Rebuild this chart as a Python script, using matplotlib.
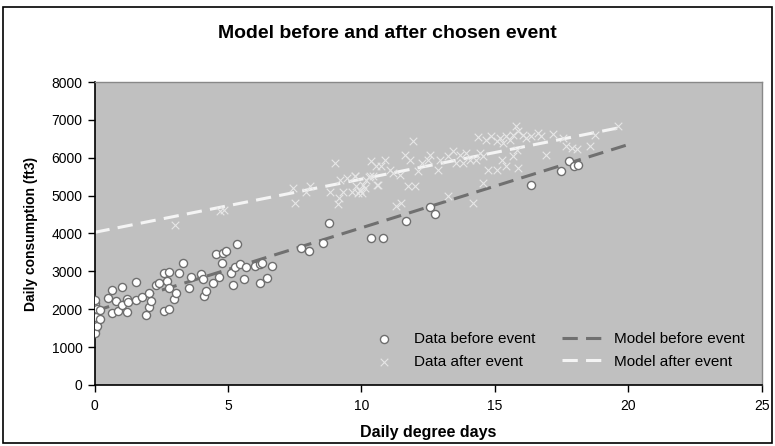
import matplotlib
matplotlib.use("Agg")
import matplotlib.pyplot as plt
from matplotlib.patches import Rectangle

plt.rcParams['font.family'] = ['Liberation Sans', 'DejaVu Sans']

# data before event (circles)
before_x = [0, 0, 0, 0, 0, 0, 0, 0, 0, 0, 0, 0, 0, 0, 0.03, 0.05, 0.08, 0.1,
            0.22, 0.22, 0.51, 0.64, 0.66, 0.8, 0.89, 1.01, 1.04, 1.2, 1.22, 1.26,
            1.57, 1.57, 1.76, 1.92, 2.05, 2.05, 2.13, 2.3, 2.42, 2.6, 2.6, 2.72,
            2.8, 2.8, 2.8, 2.98, 3.05, 3.17, 3.32, 3.55, 3.63, 4.0, 4.07, 4.09,
            4.16, 4.42, 4.54, 4.67, 4.76, 4.82, 4.91, 5.13, 5.17, 5.26, 5.34, 5.44,
            5.6, 5.67, 6.0, 6.19, 6.19, 6.29, 6.47, 6.63, 7.75, 8.04, 8.56, 8.79,
            10.35, 10.81, 11.66, 12.56, 12.77, 16.34, 17.49, 17.77, 17.95, 18.12]
before_y = [1450, 1500, 1550, 1620, 1700, 1780, 1850, 1900, 1960, 2020, 2080, 2160, 2240, 1380,
            1650, 1800, 2000, 1560,
            1978, 1732, 2286, 1890, 2505, 2224, 1960, 2110, 2593, 2277, 1925, 2198,
            2716, 2242, 2312, 1846, 2435, 2066, 2215, 2637, 2699, 2945, 1952, 2752,
            2989, 2549, 1996, 2259, 2435, 2945, 3209, 2558, 2840, 2927, 2804, 2347,
            2488, 2699, 3446, 2840, 3209, 3490, 3543, 2945, 2637, 3103, 3719, 3191,
            2787, 3103, 3138, 3191, 2681, 3226, 2813, 3138, 3604, 3534, 3754, 4270,
            3870, 3877, 4335, 4687, 4520, 5286, 5656, 5903, 5771, 5815]

# data after event (crosses)
after_x = [0, 0, 0, 0.05,
           3.0, 4.69, 4.84, 7.42, 7.5, 7.94, 8.07, 8.81, 9.0, 9.13, 9.16, 9.19,
           9.29, 9.44, 9.63, 9.75, 9.75, 9.81, 9.88, 9.93, 9.93, 10.03, 10.06, 10.12,
           10.18, 10.3, 10.31, 10.37, 10.44, 10.56, 10.6, 10.62, 10.75, 10.87, 11.06, 11.19,
           11.31, 11.44, 11.5, 11.62, 11.75, 11.81, 11.94, 11.99, 12.12, 12.25, 12.5, 12.56,
           12.87, 12.93, 13.25, 13.25, 13.43, 13.56, 13.68, 13.81, 13.93, 14.06, 14.18, 14.31,
           14.37, 14.43, 14.56, 14.56, 14.68, 14.75, 14.87, 15.06, 15.06, 15.18, 15.25, 15.3,
           15.43, 15.43, 15.56, 15.67, 15.67, 15.78, 15.81, 15.87, 15.87, 16.05, 16.18, 16.37,
           16.62, 16.74, 16.93, 17.18, 17.55, 17.68, 17.9, 18.09, 18.55, 18.74, 19.61]
after_y = [1420, 1600, 1880, 1750,
           4229, 4581, 4626, 5198, 4802, 5084, 5242, 5084, 5859, 4784, 4934, 5419,
           5084, 5463, 5084, 5507, 5507, 5242, 5066, 5110, 5154, 5066, 5286, 5198,
           5419, 5489, 5507, 5903, 5507, 5771, 5286, 5286, 5771, 5947, 5683, 5595,
           4714, 5551, 4802, 6079, 5243, 5947, 6432, 5243, 5639, 5859, 5947, 6079,
           5683, 5947, 4978, 6035, 6167, 5859, 6079, 5859, 6123, 5947, 4802, 5947,
           6547, 6123, 6035, 5331, 6476, 5683, 6564, 6432, 5683, 6520, 5947, 6388,
           6564, 5771, 6476, 6608, 6035, 6828, 6211, 6696, 5727, 6608, 6520, 6582,
           6652, 6564, 6079, 6634, 6520, 6317, 6255, 6229, 6317, 6608, 6828]

# fitted models
model_before_x = [0, 20]
model_before_y = [1950, 6350]
model_after_x = [0, 19.7]
model_after_y = [4030, 6800]

fig = plt.figure(figsize=(7.75, 4.46), dpi=100)
ax = fig.add_axes([0.122, 0.137, 0.861, 0.679])
ax.set_facecolor('#C0C0C0')

ax.plot(model_before_x, model_before_y, color='#707070', lw=2.2, dashes=(5, 2.7),
        label='Model before event', zorder=2)
ax.plot(model_after_x, model_after_y, color='#F4F4F4', lw=2.2, dashes=(5, 2.7),
        label='Model after event', zorder=2)
ax.scatter(after_x, after_y, marker='x', s=30, color='#E6E6E6', linewidths=0.8,
           label='Data after event', zorder=3)
ax.scatter(before_x, before_y, marker='o', s=34, facecolor='white', edgecolor='#6E6E6E',
           linewidths=1.0, label='Data before event', zorder=4)

ax.set_xlim(0, 25)
ax.set_ylim(0, 8000)
ax.set_xticks(range(0, 26, 5))
ax.set_yticks(range(0, 8001, 1000))
ax.tick_params(direction='out', length=5, width=1, labelsize=10, colors='black')
ax.tick_params(axis='x', pad=5.5)
for s in ['left', 'bottom']:
    ax.spines[s].set_color('black')
    ax.spines[s].set_linewidth(1.2)
for s in ['top', 'right']:
    ax.spines[s].set_color('#888888')
    ax.spines[s].set_linewidth(1.0)

ax.set_xlabel('Daily degree days', fontsize=11.5, fontweight='bold', labelpad=8)
ax.set_ylabel('Daily consumption (ft3)', fontsize=10, fontweight='bold', labelpad=10)
fig.text(0.5, 0.926, 'Model before and after chosen event', fontsize=14, fontweight='bold',
         ha='center', va='center')

h, l = ax.get_legend_handles_labels()
order = [3, 2, 0, 1]
ax.legend([h[i] for i in order], [l[i] for i in order], ncol=2, frameon=False,
          loc='center left', bbox_to_anchor=(0.3805, 0.114), fontsize=11,
          handlelength=2.9, handletextpad=0.5, columnspacing=1.75, labelspacing=0.56)

fig.patches.append(Rectangle((0.004, 0.007), 0.992, 0.978, transform=fig.transFigure,
                             fill=False, edgecolor='black', lw=1.2))

fig.savefig('out.png', dpi=100)
